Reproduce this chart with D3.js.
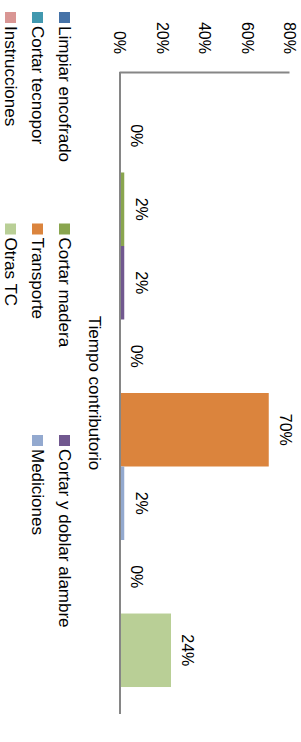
<!DOCTYPE html>
<html>
<head>
<meta charset="utf-8">
<script src="https://cdn.jsdelivr.net/npm/d3@7"></script>
<style>
  body { margin: 0; background: #fff; }
  text { font-family: "Liberation Sans", Arial, sans-serif; font-size: 16px; fill: #000; }
  .big { font-size: 17px; }
</style>
</head>
<body>
<div id="chart-area"></div>
<script>
var width = 301;
var height = 742;

// data
var series = ["Limpiar encofrado", "Cortar madera", "Cortar y doblar alambre", "Cortar tecnopor",
              "Transporte", "Mediciones", "Instrucciones", "Otras TC"];
var values = [0, 2, 2, 0, 70, 2, 0, 24];
var colors = ["#4572A7", "#89A54E", "#71588F", "#4198AF", "#DB843D", "#93A9CF", "#D99694", "#B9CF96"];
var category = "Tiempo contributorio";
var ticks = [0, 20, 40, 60, 80];

var svg = d3.select("#chart-area").append("svg")
    .attr("width", width)
    .attr("height", height);

// chart is drawn normally then turned 90deg clockwise
// inner frame: w = 742 wide, h = 301 tall
var g = svg.append("g")
    .attr("transform", "translate(" + width + ",0) rotate(90)");

var x0 = 72, x1 = 714;
var yBase = 181;

var scaleX = d3.scaleBand()
    .domain(series)
    .range([x0, x1])
    .paddingInner(0)
    .paddingOuter(0.367);

var scaleY = d3.scaleLinear()
    .domain([0, 80])
    .range([yBase, 11]);

// value axis
var y_axis = d3.axisLeft(scaleY)
    .tickValues(ticks)
    .tickSize(0)
    .tickPadding(18)
    .tickFormat(function(d){ return d + "%"; });

var ya = g.append("g")
    .attr("transform", "translate(" + x0 + ",0)")
    .call(y_axis);
ya.select(".domain").attr("stroke", "#868686").attr("stroke-width", 2);
ya.selectAll("text").attr("font-family", null).attr("font-size", null);

// bars
g.selectAll("rect.bar")
    .data(values)
    .enter()
    .append("rect")
    .attr("class", "bar")
    .attr("x", function(d, i){ return scaleX(series[i]); })
    .attr("width", scaleX.bandwidth())
    .attr("y", function(d){ return scaleY(d); })
    .attr("height", function(d){ return yBase - scaleY(d); })
    .attr("fill", function(d, i){ return colors[i]; });

// category axis line
g.append("line")
    .attr("x1", x0).attr("x2", x1)
    .attr("y1", yBase).attr("y2", yBase)
    .attr("stroke", "#868686")
    .attr("stroke-width", 2);

// value labels
g.selectAll("text.lbl")
    .data(values)
    .enter()
    .append("text")
    .attr("class", "lbl")
    .attr("x", function(d, i){ return scaleX(series[i]) + scaleX.bandwidth() / 2; })
    .attr("y", function(d){ return scaleY(d) - 17; })
    .attr("dy", "0.35em")
    .attr("text-anchor", "middle")
    .text(function(d){ return d + "%"; });

// category label
g.append("text")
    .attr("class", "big")
    .attr("x", (x0 + x1) / 2)
    .attr("y", yBase + 25)
    .attr("dy", "0.35em")
    .attr("text-anchor", "middle")
    .text(category);

// legend
var legend = g.selectAll("g.leg")
    .data(series)
    .enter()
    .append("g")
    .attr("class", "leg")
    .attr("transform", function(d, i){
        return "translate(" + (12 + (i % 3) * 211.5) + "," + (236.5 + Math.floor(i / 3) * 27) + ")";
    });

legend.append("rect")
    .attr("x", 0)
    .attr("y", -5.5)
    .attr("width", 11)
    .attr("height", 11)
    .attr("fill", function(d, i){ return colors[i]; });

legend.append("text")
    .attr("class", "big")
    .attr("x", 14)
    .attr("y", 0)
    .attr("dy", "0.35em")
    .text(function(d){ return d; });
</script>
</body>
</html>
